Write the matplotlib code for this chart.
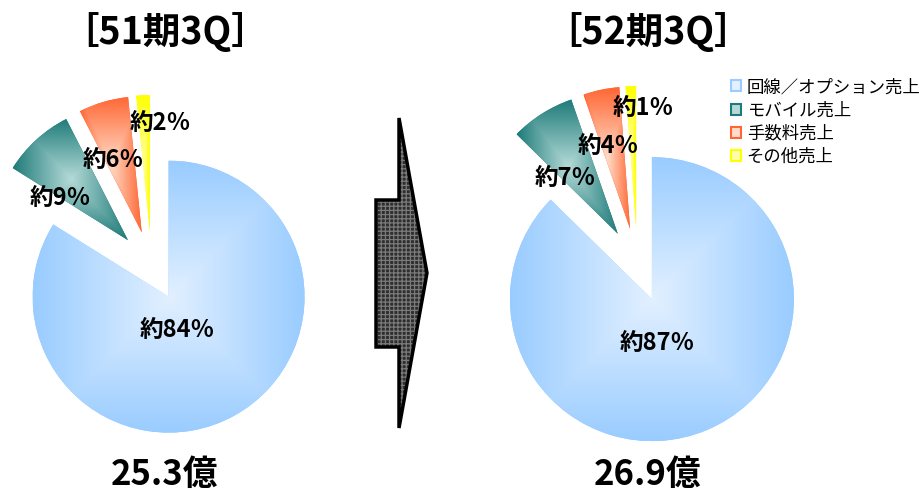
import matplotlib.pyplot as plt
import numpy as np
from matplotlib.colors import to_rgb
from matplotlib.patches import Patch, Polygon

plt.rcParams['font.family'] = ['Noto Sans CJK JP', 'DejaVu Sans']

# データ (扇形の角度から読んだ構成比、ラベルは四捨五入)
categories = ["回線／オプション売上", "モバイル売上", "手数料売上", "その他売上"]
share_51 = [83.9, 8.6, 5.9, 1.6]
share_52 = [87.1, 7.3, 4.1, 1.2]
periods = ["［51期3Q］", "［52期3Q］"]
totals = ["25.3億", "26.9億"]

edge_colors = ["#99CCFF", "#1E7B79", "#FF6633", "#FFFF00"]
center_colors = ["#E2F0FF", "#B4DAD8", "#FFDCC8", "#FFFFA8"]

W, H = 919, 490
fig = plt.figure(figsize=(W / 100, H / 100), dpi=100)
ax = fig.add_axes([0, 0, 1, 1])


def gradient_fill(wedge, c_edge, c_center):
    # Excel風の「中心から」グラデーション
    ext = wedge.get_path().get_extents()
    cx, cy = (ext.x0 + ext.x1) / 2, (ext.y0 + ext.y1) / 2
    hw, hh = ext.width / 2, ext.height / 2
    xs = np.linspace(ext.x0, ext.x1, 300)
    ys = np.linspace(ext.y0, ext.y1, 300)
    X, Y = np.meshgrid(xs, ys)
    t = np.maximum(np.abs(X - cx) / hw, np.abs(Y - cy) / hh)
    t = np.clip(t, 0, 1)[..., None]
    e = np.array(to_rgb(c_edge))
    c = np.array(to_rgb(c_center))
    img = c + (e - c) * t
    im = ax.imshow(img, extent=(ext.x0, ext.x1, ext.y0, ext.y1), origin='lower',
                   interpolation='bilinear', zorder=2)
    im.set_clip_path(wedge)


def draw_pie(values, center, radius, expl, label_pos):
    wedges, _ = ax.pie(values, radius=radius, center=center, startangle=90,
                       counterclock=False, explode=[expl] * len(values),
                       colors=edge_colors, wedgeprops=dict(linewidth=0))
    for w, ce, cc in zip(wedges, edge_colors, center_colors):
        gradient_fill(w, ce, cc)
    for v, (x, y) in zip(values, label_pos):
        ax.text(x, H - y, f"約{round(v)}％", ha='center', va='center', fontsize=17,
                fontweight='bold', zorder=5)


draw_pie(share_51, (151.6, H - 266), 136, 35,
         [(177, 330), (60, 198), (113, 160), (160, 123)])
draw_pie(share_52, (637.6, H - 265), 142, 37,
         [(657, 343), (565, 178), (608, 146), (643, 108)])

# タイトルと合計
for x, p, tot in zip([165, 648], periods, totals):
    ax.text(x, H - 32, p, ha='center', va='center', fontsize=27, fontweight='bold')
    ax.text(x, H - 474, tot, ha='center', va='center', fontsize=25, fontweight='bold')

# 矢印
arrow = [(399, 118), (427, 273), (399, 428), (399, 347), (376, 347), (376, 200), (399, 200)]
arrow = [(x, H - y) for x, y in arrow]
plt.rcParams['hatch.linewidth'] = 0.9
ax.add_patch(Polygon(arrow, closed=True, facecolor='#2e2e2e', edgecolor='#7a7a7a',
                     hatch='++++', linewidth=0, zorder=3))
ax.add_patch(Polygon(arrow, closed=True, fill=False, edgecolor='black',
                     linewidth=2.5, joinstyle='miter', zorder=4))

# 凡例
handles = [Patch(facecolor=cc, edgecolor=ce, linewidth=1.5)
           for ce, cc in zip(edge_colors, center_colors)]
ax.legend(handles, categories, loc='upper left', bbox_to_anchor=(731 / W, 1 - 78 / H),
          frameon=False, prop=dict(size=12.5), handlelength=0.6, handleheight=0.6,
          handletextpad=0.3, labelspacing=0.3, borderaxespad=0, borderpad=0)

ax.set_xlim(0, W)
ax.set_ylim(0, H)
ax.set_aspect('equal')
ax.axis('off')

fig.savefig("out.png", dpi=100)
plt.close(fig)
